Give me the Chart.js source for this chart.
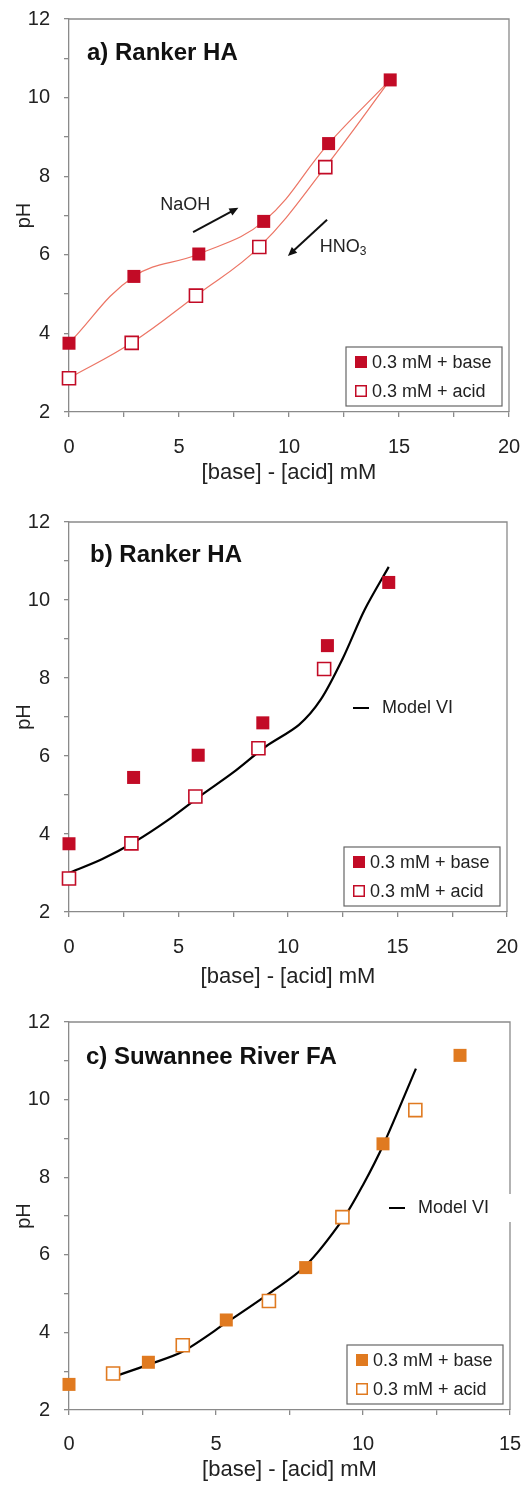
<!DOCTYPE html>
<html>
<head>
<meta charset="utf-8">
<script src="https://cdn.jsdelivr.net/npm/chart.js@4.4.1/dist/chart.umd.min.js"></script>
<style>
  body { margin: 0; background: #fff; }
  #wrap { position: relative; width: 528px; height: 1490px; }
  canvas { position: absolute; left: 0; }
</style>
</head>
<body>
<div id="wrap">
  <canvas id="chartA" width="528" height="487" style="top:0px"></canvas>
  <canvas id="chartB" width="528" height="508" style="top:487px"></canvas>
  <canvas id="chartC" width="528" height="495" style="top:995px"></canvas>
</div>
<script>
// Ranker HA titration, panels a) and b)
var rankerBaseX = [0, 2.95, 5.9, 8.85, 11.8, 14.6];
var rankerBaseY = [3.75, 5.45, 6.02, 6.85, 8.83, 10.45];
var rankerAcidX = [0, 2.85, 5.77, 8.65, 11.65];
var rankerAcidY = [2.86, 3.76, 4.96, 6.2, 8.23];

// Model VI for Ranker HA (panel b)
var modelRankerX = [0, 1.5, 3, 4.5, 6, 7.5, 9, 10.5, 11.5, 12.5, 13.5, 14.6];
var modelRankerY = [3.0, 3.35, 3.8, 4.35, 4.98, 5.58, 6.25, 6.8, 7.45, 8.5, 9.75, 10.85];

// Suwannee River FA, panel c)
var suwBaseX = [0, 2.7, 5.35, 8.05, 10.68, 13.3];
var suwBaseY = [2.66, 3.23, 4.32, 5.67, 8.86, 11.14];
var suwAcidX = [1.5, 3.87, 6.8, 9.3, 11.78];
var suwAcidY = [2.94, 3.67, 4.81, 6.97, 9.73];
var modelSuwX = [1.5, 2.7, 3.85, 5.35, 6.8, 8.05, 9.3, 10.0, 10.7, 11.8];
var modelSuwY = [2.85, 3.17, 3.5, 4.25, 5.0, 5.72, 6.9, 7.8, 8.85, 10.8];

var yTicksMin = 2, yTicksMax = 12, yLabelStep = 2;
var xLabelStep = 5;
var legendLabels = ['0.3 mM + base', '0.3 mM + acid'];
var modelLabel = 'Model VI';
var xTitle = '[base] - [acid] mM';
var yTitle = 'pH';

var RED = '#c20b26';
var SALMON = '#ec7565';
var ORANGE = '#e07a20';
var AXIS = '#8a8a8a';

Chart.defaults.font.family = "'Liberation Sans', Arial, sans-serif";
Chart.defaults.color = '#222';

function pts(xs, ys) {
    var out = [];
    for (var i = 0; i < xs.length; i++) {
        out.push({x: xs[i], y: ys[i]});
    }
    return out;
}

function markerSet(label, xs, ys, color, filled) {
    return {
        label: label,
        data: pts(xs, ys),
        clip: false,
        pointStyle: 'rect',
        pointRadius: 9.2,
        pointHoverRadius: 9.2,
        pointBackgroundColor: filled ? color : '#fff',
        pointBorderColor: color,
        pointBorderWidth: filled ? 0 : 1.6,
        showLine: false
    };
}

function curveSet(data, color, width, tension) {
    return {
        label: '',
        data: data,
        clip: false,
        showLine: true,
        borderColor: color,
        borderWidth: width,
        tension: tension,
        pointRadius: 0,
        pointHoverRadius: 0,
        fill: false
    };
}

// drop the label overflow padding so the plot box lands where we put it
function noPad(s) {
    s.paddingLeft = 0;
    s.paddingRight = 0;
    s.paddingTop = 0;
    s.paddingBottom = 0;
}

function overlay(p) {
    return {
        id: 'overlay',
        beforeDatasetsDraw: function(chart) {
            var a = chart.chartArea, ctx = chart.ctx;
            ctx.save();
            ctx.strokeStyle = AXIS;
            ctx.lineWidth = 1.3;
            ctx.beginPath();
            ctx.moveTo(a.left, a.top);
            ctx.lineTo(a.right, a.top);
            ctx.lineTo(a.right, a.bottom);
            ctx.stroke();
            ctx.restore();
        },
        afterDraw: function(chart) {
            var a = chart.chartArea, ctx = chart.ctx;
            var sx = chart.scales.x, sy = chart.scales.y;
            ctx.save();

            // panel title
            ctx.fillStyle = '#111';
            ctx.font = "bold 24px 'Liberation Sans', Arial, sans-serif";
            ctx.textBaseline = 'middle';
            ctx.textAlign = 'left';
            ctx.fillText(p.title, p.titlePos[0], p.titlePos[1]);

            // model label
            if (p.modelPos) {
                var mx = p.modelPos[0], my = p.modelPos[1];
                if (p.modelMask) {
                    ctx.fillStyle = '#fff';
                    ctx.fillRect(mx - 8, my - 14, a.right + 6 - (mx - 8), 28);
                }
                ctx.strokeStyle = '#000';
                ctx.lineWidth = 2;
                ctx.beginPath();
                ctx.moveTo(mx, my);
                ctx.lineTo(mx + 16, my);
                ctx.stroke();
                ctx.fillStyle = '#222';
                ctx.font = "18px 'Liberation Sans', Arial, sans-serif";
                ctx.fillText(modelLabel, mx + 29, my);
            }

            // legend box
            var lw = 156, lh = 59;
            var lx = a.right - 7 - lw, ly = a.bottom - 6 - lh;
            ctx.fillStyle = '#fff';
            ctx.fillRect(lx, ly, lw, lh);
            ctx.strokeStyle = '#666';
            ctx.lineWidth = 1.2;
            ctx.strokeRect(lx, ly, lw, lh);
            ctx.font = "18px 'Liberation Sans', Arial, sans-serif";
            for (var i = 0; i < 2; i++) {
                var ry = ly + 15 + i * 29;
                if (i === 0) {
                    ctx.fillStyle = p.color;
                    ctx.fillRect(lx + 9, ry - 6, 12, 12);
                } else {
                    ctx.fillStyle = '#fff';
                    ctx.fillRect(lx + 9, ry - 6, 12, 12);
                    ctx.strokeStyle = p.color;
                    ctx.lineWidth = 1.5;
                    ctx.strokeRect(lx + 9.75, ry - 5.25, 10.5, 10.5);
                }
                ctx.fillStyle = '#222';
                ctx.fillText(legendLabels[i], lx + 26, ry + 1);
            }

            // arrows with text (panel a only)
            if (p.arrows) {
                p.arrows.forEach(function(ar) {
                    var x0 = sx.getPixelForValue(ar.from[0]), y0 = sy.getPixelForValue(ar.from[1]);
                    var x1 = sx.getPixelForValue(ar.to[0]), y1 = sy.getPixelForValue(ar.to[1]);
                    var ang = Math.atan2(y1 - y0, x1 - x0);
                    ctx.strokeStyle = '#111';
                    ctx.fillStyle = '#111';
                    ctx.lineWidth = 2;
                    ctx.beginPath();
                    ctx.moveTo(x0, y0);
                    ctx.lineTo(x1 - 5 * Math.cos(ang), y1 - 5 * Math.sin(ang));
                    ctx.stroke();
                    ctx.beginPath();
                    ctx.moveTo(x1, y1);
                    ctx.lineTo(x1 - 9 * Math.cos(ang) + 4 * Math.sin(ang), y1 - 9 * Math.sin(ang) - 4 * Math.cos(ang));
                    ctx.lineTo(x1 - 9 * Math.cos(ang) - 4 * Math.sin(ang), y1 - 9 * Math.sin(ang) + 4 * Math.cos(ang));
                    ctx.closePath();
                    ctx.fill();

                    var tx = sx.getPixelForValue(ar.textAt[0]), ty = sy.getPixelForValue(ar.textAt[1]);
                    ctx.fillStyle = '#222';
                    ctx.font = "18px 'Liberation Sans', Arial, sans-serif";
                    ctx.textAlign = 'left';
                    ctx.fillText(ar.text, tx, ty);
                    if (ar.sub) {
                        var w = ctx.measureText(ar.text).width;
                        ctx.font = "12px 'Liberation Sans', Arial, sans-serif";
                        ctx.fillText(ar.sub, tx + w, ty + 5);
                    }
                });
            }
            ctx.restore();
        }
    };
}

function makePanel(p) {
    var canvas = document.getElementById(p.id);
    var H = canvas.height;
    return new Chart(canvas, {
        type: 'scatter',
        data: {datasets: p.datasets},
        options: {
            responsive: false,
            animation: false,
            events: [],
            layout: {padding: {left: 0, top: p.area.top, right: 528 - p.area.right, bottom: p.padBottom}},
            plugins: {legend: {display: false}, tooltip: {enabled: false}},
            scales: {
                x: {
                    type: 'linear',
                    min: 0,
                    max: p.xMax,
                    afterFit: function(s) {
                        s.height = H - p.padBottom - p.area.bottom;
                        noPad(s);
                    },
                    grid: {display: true, drawOnChartArea: false, drawTicks: true, tickLength: 5, color: AXIS, lineWidth: 1.3},
                    border: {display: true, color: AXIS, width: 1.3},
                    ticks: {
                        stepSize: 2.5,
                        autoSkip: false,
                        maxRotation: 0,
                        padding: p.xTickPad,
                        font: {size: 20},
                        color: '#222',
                        callback: function(v) { return v % xLabelStep === 0 ? String(v) : ''; }
                    },
                    title: {display: true, text: xTitle, color: '#222', font: {size: 22}, padding: {top: 0, bottom: 0}}
                },
                y: {
                    type: 'linear',
                    min: yTicksMin,
                    max: yTicksMax,
                    afterFit: function(s) {
                        s.width = p.area.left;
                        noPad(s);
                    },
                    grid: {display: true, drawOnChartArea: false, drawTicks: true, tickLength: 5, color: AXIS, lineWidth: 1.3},
                    border: {display: true, color: AXIS, width: 1.3},
                    ticks: {
                        stepSize: 1,
                        autoSkip: false,
                        padding: 14,
                        font: {size: 20},
                        color: '#222',
                        callback: function(v) { return v % yLabelStep === 0 ? String(v) : ''; }
                    },
                    title: {display: true, text: yTitle, color: '#222', font: {size: 20}, padding: {top: 12, bottom: 0}}
                }
            }
        },
        plugins: [overlay(p)]
    });
}

// panel a: data with smooth connecting curves
var rankerAcidCurve = pts(rankerAcidX, rankerAcidY);
rankerAcidCurve.push({x: rankerBaseX[rankerBaseX.length - 1], y: rankerBaseY[rankerBaseY.length - 1]});

makePanel({
    id: 'chartA',
    area: {left: 69, top: 19, right: 509, bottom: 412},
    padBottom: 1,
    xMax: 20,
    xTickPad: 18,
    color: RED,
    title: 'a) Ranker HA',
    titlePos: [87, 53],
    arrows: [
        {from: [5.64, 6.58], to: [7.7, 7.2], text: 'NaOH', textAt: [4.15, 7.27]},
        {from: [11.73, 6.89], to: [9.95, 5.97], text: 'HNO', sub: '3', textAt: [11.4, 6.2]}
    ],
    datasets: [
        markerSet(legendLabels[0], rankerBaseX, rankerBaseY, RED, true),
        markerSet(legendLabels[1], rankerAcidX, rankerAcidY, RED, false),
        curveSet(pts(rankerBaseX, rankerBaseY), SALMON, 1.2, 0.4),
        curveSet(rankerAcidCurve, SALMON, 1.2, 0.4)
    ]
});

makePanel({
    id: 'chartB',
    area: {left: 69, top: 35, right: 507, bottom: 425},
    padBottom: 5,
    xMax: 20,
    xTickPad: 18,
    color: RED,
    title: 'b) Ranker HA',
    titlePos: [90, 68],
    modelPos: [353, 221],
    datasets: [
        markerSet(legendLabels[0], rankerBaseX, rankerBaseY, RED, true),
        markerSet(legendLabels[1], rankerAcidX, rankerAcidY, RED, false),
        curveSet(pts(modelRankerX, modelRankerY), '#000', 2.2, 0.3)
    ]
});

makePanel({
    id: 'chartC',
    area: {left: 69, top: 27, right: 510, bottom: 415},
    padBottom: 7,
    xMax: 15,
    xTickPad: 17,
    color: ORANGE,
    title: 'c) Suwannee River FA',
    titlePos: [86, 62],
    modelPos: [389, 213],
    modelMask: true,
    datasets: [
        markerSet(legendLabels[0], suwBaseX, suwBaseY, ORANGE, true),
        markerSet(legendLabels[1], suwAcidX, suwAcidY, ORANGE, false),
        curveSet(pts(modelSuwX, modelSuwY), '#000', 2.2, 0.3)
    ]
});
</script>
</body>
</html>
